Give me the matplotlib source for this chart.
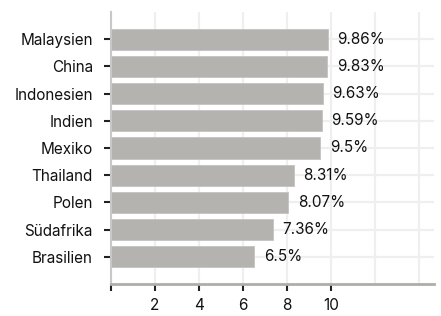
import numpy as np
import matplotlib
matplotlib.use("Agg")
import matplotlib.pyplot as plt

plt.rcParams['font.family'] = ['Inter', 'DejaVu Sans']

laender = ['Malaysien', 'China', 'Indonesien', 'Indien', 'Mexiko',
           'Thailand', 'Polen', 'Südafrika', 'Brasilien']
werte = [9.86, 9.83, 9.63, 9.59, 9.5, 8.31, 8.07, 7.36, 6.5]
beschriftung = ['9.86%', '9.83%', '9.63%', '9.59%', '9.5%',
                '8.31%', '8.07%', '7.36%', '6.5%']

fig = plt.figure(figsize=(4.41, 3.16), dpi=100)
ax = fig.add_axes([111 / 441, 1 - 284 / 316, 323 / 441, 272 / 316])

y = np.arange(len(laender))
ax.barh(y, werte, height=0.78, color='#b4b3af', edgecolor='#c4c3bf',
        linewidth=0.6, zorder=2)

for yi, w, t in zip(y, werte, beschriftung):
    ax.text(w + 0.45, yi, t, va='center', ha='left', fontsize=11,
            color='#111111', zorder=3)

ax.set_xlim(0, 14.7)
ax.set_ylim(9, -1)

# Gitter
ax.set_xticks(np.arange(0, 15, 2))
ax.set_xticklabels(['', '2', '4', '6', '8', '10', '', ''])
ax.set_yticks(y)
ax.set_yticklabels(laender)
ax.grid(True, color='#efefef', linewidth=1.6, zorder=0)
ax.set_axisbelow(True)

# Ticks nur bis 10 sichtbar
for i, tick in enumerate(ax.xaxis.get_major_ticks()):
    if i > 5:
        tick.tick1line.set_visible(False)

ax.tick_params(axis='x', length=5, width=1.5, color='#222222',
               labelsize=11, pad=5, labelcolor='#111111')
ax.tick_params(axis='y', length=5, width=1.5, color='#222222',
               labelsize=11, pad=8, labelcolor='#111111')

for s in ['top', 'right']:
    ax.spines[s].set_visible(False)
ax.spines['left'].set_color('#c8c8c8')
ax.spines['left'].set_linewidth(1.5)
ax.spines['bottom'].set_color('#aeaea8')
ax.spines['bottom'].set_linewidth(2)

fig.savefig('out.png', dpi=100)
